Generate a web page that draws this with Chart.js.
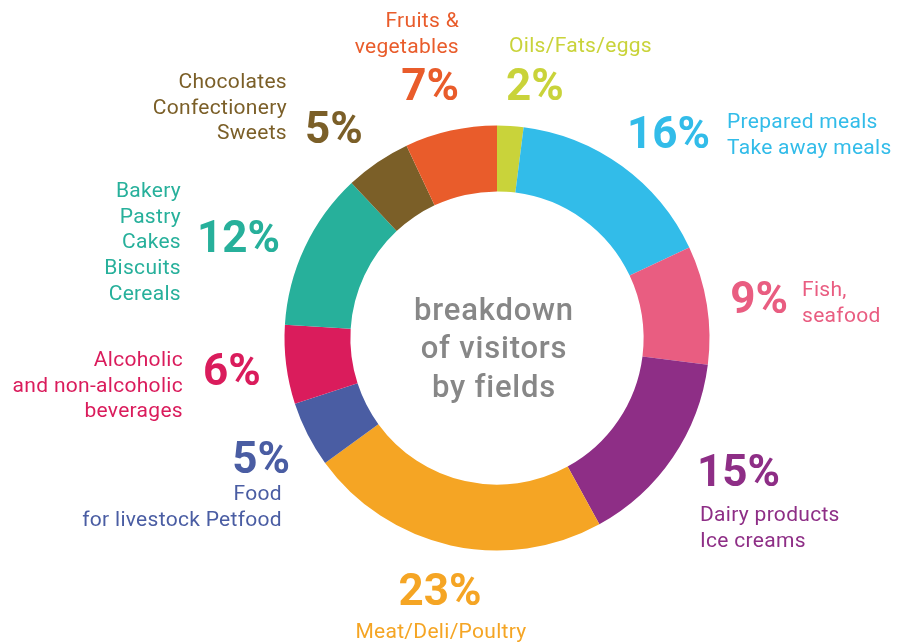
<!DOCTYPE html>
<html lang="en">
<head>
<meta charset="utf-8">
<style>
  html, body { margin: 0; padding: 0; background: #ffffff; }
  #wrap { width: 900px; height: 642px; }
</style>
</head>
<body>
<div id="wrap">
  <canvas id="myChart" width="900" height="642"></canvas>
</div>
<script src="https://cdn.jsdelivr.net/npm/chart.js"></script>
<script>
// data, clockwise from 12 o'clock
const categories = [
  ['Oils/Fats/eggs'],
  ['Prepared meals', 'Take away meals'],
  ['Fish,', 'seafood'],
  ['Dairy products', 'Ice creams'],
  ['Meat/Deli/Poultry'],
  ['Food', 'for livestock Petfood'],
  ['Alcoholic', 'and non-alcoholic', 'beverages'],
  ['Bakery', 'Pastry', 'Cakes', 'Biscuits', 'Cereals'],
  ['Chocolates', 'Confectionery', 'Sweets'],
  ['Fruits &', 'vegetables']
];
const shares = [2, 16, 9, 15, 23, 5, 6, 12, 5, 7];
const centerTitle = ['breakdown', 'of visitors', 'by fields'];

const colors = ['#c9d33a', '#32bce9', '#e95d81', '#8e2e86', '#f5a524', '#4a5da3', '#da1c5c', '#27b09b', '#7b5f28', '#e95c2b'];

// label placement, offsets from the doughnut centre (x, baseline y)
const labelLayout = [
  { pct: [9, -238, 'left'],    txt: [12, -286, 'left'] },
  { pct: [213, -190, 'right'], txt: [230, -210, 'left'] },
  { pct: [291, -25, 'right'],  txt: [305, -42, 'left'] },
  { pct: [200, 148, 'left'],   txt: [203, 183, 'left'] },
  { pct: [-57, 267, 'center'], txt: [-56, 300, 'center'] },
  { pct: [-207, 135, 'right'], txt: [-215, 162, 'right'] },
  { pct: [-294, 47, 'left'],   txt: [-314, 28, 'right'] },
  { pct: [-300, -86, 'left'],  txt: [-316, -141, 'right'] },
  { pct: [-192, -195, 'left'], txt: [-210, -250, 'right'] },
  { pct: [-38, -238, 'right'], txt: [-38, -311, 'right'] }
];
const FONT = 'Roboto, "Noto Sans", sans-serif';

const labelPlugin = {
  id: 'outerLabels',
  afterDraw(chart) {
    const ctx = chart.ctx;
    const arcs = chart.getDatasetMeta(0).data;
    const cx = arcs[0].x, cy = arcs[0].y;
    ctx.save();
    ctx.textBaseline = 'alphabetic';
    arcs.forEach((arc, i) => {
      const lay = labelLayout[i];
      ctx.fillStyle = colors[i];
      ctx.letterSpacing = '0px';
      ctx.font = 'bold 44px ' + FONT;
      ctx.textAlign = lay.pct[2];
      ctx.fillText(shares[i] + '%', cx + lay.pct[0], cy + lay.pct[1]);
      ctx.font = '21px ' + FONT;
      ctx.letterSpacing = '0.3px';
      ctx.textAlign = lay.txt[2];
      categories[i].forEach((line, j) => {
        ctx.fillText(line, cx + lay.txt[0], cy + lay.txt[1] + j * 25.7);
      });
    });
    // centre title
    ctx.fillStyle = '#878787';
    ctx.font = '500 31px ' + FONT;
    ctx.letterSpacing = '0.8px';
    ctx.textAlign = 'center';
    centerTitle.forEach((line, j) => {
      ctx.fillText(line, cx - 3, cy - 18 + j * 38.3);
    });
    ctx.restore();
  }
};

const data = {
  labels: categories.map(c => c.join(' ')),
  datasets: [{
    data: shares,
    backgroundColor: colors,
    borderWidth: 0
  }]
};

const config = {
  type: 'doughnut',
  data: data,
  options: {
    responsive: false,
    animation: false,
    cutout: '69%',
    layout: { padding: { left: 284.5, right: 190.5, top: 125.5, bottom: 91.5 } },
    plugins: {
      legend: { display: false },
      tooltip: { enabled: false }
    }
  },
  plugins: [labelPlugin]
};

const myChart = new Chart(document.getElementById('myChart'), config);
</script>
</body>
</html>
